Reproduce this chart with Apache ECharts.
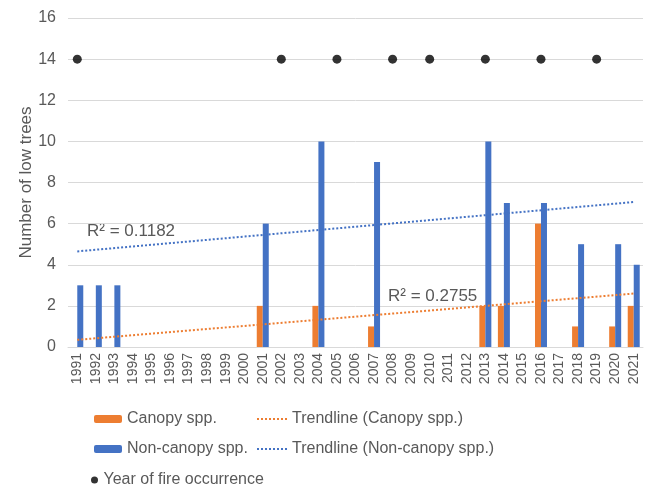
<!DOCTYPE html>
<html>
<head>
<meta charset="utf-8">
<script src="https://cdn.jsdelivr.net/npm/echarts@6/dist/echarts.min.js"></script>
<style>
    html, body {margin: 0; padding: 0; background: #fff;}
    #chart {width: 651px; height: 489px;}
</style>
</head>
<body>
<div id="chart"></div>
<script>
// 年份
var years = [];
for (var y = 1991; y <= 2021; y++) years.push(String(y));

// 数据
var canopyYears = ['2001', '2004', '2007', '2013', '2014', '2016', '2018', '2020', '2021'];
var canopyVals = [2, 2, 1, 2, 2, 6, 1, 1, 2];
var nonCanopyYears = ['1991', '1992', '1993', '2001', '2004', '2007', '2013', '2014', '2016', '2018', '2020', '2021'];
var nonCanopyVals = [3, 3, 3, 6, 10, 9, 10, 7, 7, 5, 5, 4];
var fireYears = ['1991', '2002', '2005', '2008', '2010', '2013', '2016', '2019'];
var fireLevel = 14;
// 趋势线两端
var trendCanopy = [0.35, 2.6];
var trendNonCanopy = [4.65, 7.05];
var r2Canopy = 'R² = 0.2755';
var r2NonCanopy = 'R² = 0.1182';

function toSeries(keys, vals) {
    var m = {};
    keys.forEach(function (k, i) { m[k] = vals[i]; });
    return years.map(function (yr) { return m[yr] === undefined ? 0 : m[yr]; });
}

var txt = '#595959';
var font = 'Liberation Sans, Arial, sans-serif';
var legendText = {fontSize: 16, color: txt, fontFamily: font};

var chart = echarts.init(document.getElementById('chart'));
var option = {
    animation: false,
    textStyle: {fontFamily: font},
    grid: {left: 68, right: 8, top: 18, bottom: 142},
    legend: [
        {
            orient: 'vertical', left: 89, top: 406, itemGap: 14,
            itemWidth: 28, itemHeight: 8,
            textStyle: legendText,
            data: ['Canopy spp.', 'Non-canopy spp.']
        },
        {
            left: 86, top: 467,
            itemWidth: 8, itemHeight: 7,
            textStyle: legendText,
            data: [{name: 'Year of fire occurrence', icon: 'circle'}]
        },
        {
            orient: 'vertical', left: 251, top: 406, itemGap: 14,
            itemWidth: 30, itemHeight: 8,
            textStyle: legendText,
            data: [
                {name: 'Trendline (Canopy spp.)', itemStyle: {opacity: 0}},
                {name: 'Trendline (Non-canopy spp.)', itemStyle: {opacity: 0}}
            ]
        }
    ],
    xAxis: {
        type: 'category',
        data: years,
        axisLine: {lineStyle: {color: '#d9d9d9'}},
        axisTick: {show: false},
        axisLabel: {rotate: 90, interval: 0, color: txt, fontSize: 14, margin: 6}
    },
    yAxis: {
        type: 'value', min: 0, max: 16, interval: 2,
        name: 'Number of low trees', nameLocation: 'middle', nameGap: 33,
        nameMoveOverlap: false,
        nameTextStyle: {fontSize: 17, color: txt},
        axisLabel: {color: txt, fontSize: 16, margin: 12},
        splitLine: {lineStyle: {color: '#d9d9d9'}}
    },
    series: [
        {
            name: 'Canopy spp.', type: 'bar', barWidth: 6, barGap: '0%',
            itemStyle: {color: '#ed7d31'},
            data: toSeries(canopyYears, canopyVals)
        },
        {
            name: 'Non-canopy spp.', type: 'bar', barWidth: 6,
            itemStyle: {color: '#4472c4'},
            data: toSeries(nonCanopyYears, nonCanopyVals)
        },
        {
            name: 'Trendline (Canopy spp.)', type: 'line', symbol: 'none',
            lineStyle: {color: '#ed7d31', width: 2, type: [2, 2]},
            itemStyle: {color: '#ed7d31'},
            data: [[years[0], trendCanopy[0]], [years[years.length - 1], trendCanopy[1]]]
        },
        {
            name: 'Trendline (Non-canopy spp.)', type: 'line', symbol: 'none',
            lineStyle: {color: '#4472c4', width: 2, type: [2, 2]},
            itemStyle: {color: '#4472c4'},
            data: [[years[0], trendNonCanopy[0]], [years[years.length - 1], trendNonCanopy[1]]]
        },
        {
            name: 'Year of fire occurrence', type: 'scatter', symbolSize: 9,
            itemStyle: {color: '#000'},
            data: fireYears.map(function (yr) { return [yr, fireLevel]; })
        }
    ],
    graphic: [
        {type: 'text', left: 87, top: 223, style: {text: r2NonCanopy, fontSize: 17, fill: txt, fontFamily: font}},
        {type: 'text', left: 388, top: 288, style: {text: r2Canopy, fontSize: 17, fill: txt, fontFamily: font}}
    ]
};
chart.setOption(option);
</script>
</body>
</html>
